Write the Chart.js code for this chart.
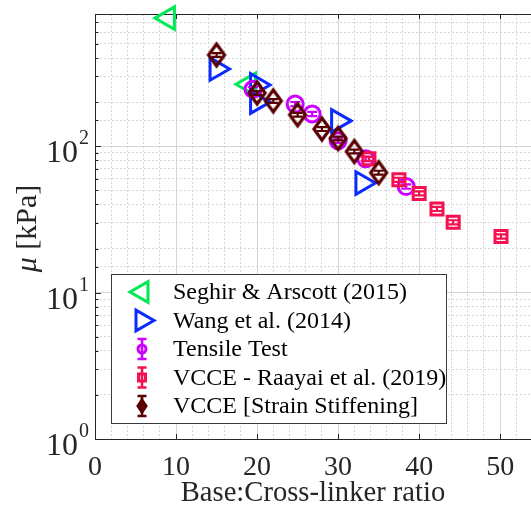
<!DOCTYPE html>
<html lang="en">

<head>
    <meta charset="UTF-8">
    <title>mu vs ratio</title>
    <style>
        html, body { margin: 0; padding: 0; background: #fff; overflow: hidden; }
        #wrap { width: 531px; height: 508px; }
    </style>
</head>

<body>
    <div id="wrap"><canvas id="myChart" width="531" height="508"></canvas></div>

    <script src="https://cdn.jsdelivr.net/npm/chart.js"></script>
    <script>
        // values
        const seghirX = [9, 19];
        const seghirY = [750, 265];

        const wangX = [15, 20, 20, 30, 33];
        const wangY = [337, 262, 200, 149, 56];

        const tensileX = [19.5, 24.7, 26.8, 30, 33.4, 38.4];
        const tensileY = [245, 194, 166, 109, 82, 53];
        const tensileErr = [8, 6.5, 5.5, 3.8, 2.8, 1.8];

        const raayaiX = [33.8, 37.5, 40, 42.2, 44.2, 50.1];
        const raayaiY = [82, 59, 47.6, 37.3, 30.2, 24.2];
        const raayaiErr = [2.6, 1.9, 1.5, 1.2, 1, 0.8];

        const stiffX = [15, 20, 22, 25, 28, 30, 32, 35];
        const stiffY = [420, 231, 204, 164, 131, 113, 92, 66];
        const stiffErr = [12, 7, 6, 5, 4, 3.4, 2.8, 2];

        const xTicks = [0, 10, 20, 30, 40, 50];
        const yTicks = [1, 10, 100];
        const yTickExp = ['0', '1', '2'];

        const labels = [
            'Seghir & Arscott (2015)',
            'Wang et al. (2014)',
            'Tensile Test',
            'VCCE - Raayai et al. (2019)',
            'VCCE [Strain Stiffening]'
        ];

        const green = '#00EA55';
        const blue = '#0A2AFF';
        const magenta = '#CC00FF';
        const red = '#F5114F';
        const dark = '#5A0000';
        const axisColor = '#262626';
        const serif = '"Liberation Serif", "Times New Roman", serif';

        const ctx = document.getElementById('myChart');

        function pts(xs, ys) {
            return xs.map((x, i) => ({ x: x, y: ys[i] }));
        }

        // MATLAB-like diamond, taller than wide
        function diamondImage(color) {
            var c = document.createElement('canvas');
            c.width = 22; c.height = 30;
            var g = c.getContext('2d');
            g.strokeStyle = color;
            g.lineWidth = 3.2;
            g.beginPath();
            g.moveTo(11, 4); g.lineTo(19, 15); g.lineTo(11, 26); g.lineTo(3, 15);
            g.closePath();
            g.stroke();
            return c;
        }

        // error bars drawn right after each dataset so stacking stays correct
        const errorBars = {
            id: 'errorBars',
            afterDatasetDraw(chart, args) {
                var ds = chart.data.datasets[args.index];
                if (!ds.err) return;
                var g = chart.ctx, ys = chart.scales.y;
                g.save();
                g.strokeStyle = ds.borderColor;
                g.lineWidth = 2.2;
                args.meta.data.forEach((p, i) => {
                    var v = ds.data[i].y, e = ds.err[i];
                    var y1 = ys.getPixelForValue(v + e), y2 = ys.getPixelForValue(v - e);
                    g.beginPath();
                    g.moveTo(p.x, y1); g.lineTo(p.x, y2);
                    g.moveTo(p.x - 5, y1); g.lineTo(p.x + 5, y1);
                    g.moveTo(p.x - 5, y2); g.lineTo(p.x + 5, y2);
                    g.stroke();
                });
                g.restore();
            }
        };

        // top border and inward tick marks
        const axesExtras = {
            id: 'axesExtras',
            beforeDatasetsDraw(chart) {
                var g = chart.ctx, a = chart.chartArea, xs = chart.scales.x, ys = chart.scales.y;
                g.save();
                g.strokeStyle = axisColor;
                g.lineWidth = 1;
                g.beginPath();
                g.moveTo(a.left, a.top + 0.5); g.lineTo(a.right, a.top + 0.5);
                xTicks.forEach(v => {
                    var px = Math.round(xs.getPixelForValue(v)) + 0.5;
                    g.moveTo(px, a.bottom); g.lineTo(px, a.bottom - 5);
                    g.moveTo(px, a.top); g.lineTo(px, a.top + 5);
                });
                ys.ticks.forEach(t => {
                    var py = Math.round(ys.getPixelForValue(t.value)) + 0.5;
                    var l = Math.abs(Math.log10(t.value) - Math.round(Math.log10(t.value))) < 1e-9 ? 6 : 3.5;
                    g.moveTo(a.left, py); g.lineTo(a.left + l, py);
                });
                g.stroke();
                g.restore();
            },
            afterDraw(chart) {
                var g = chart.ctx, ys = chart.scales.y, a = chart.chartArea;
                g.save();
                g.fillStyle = axisColor;
                // 10^n tick labels
                yTicks.forEach((v, i) => {
                    var py = ys.getPixelForValue(v);
                    g.font = '32px ' + serif;
                    g.textAlign = 'right';
                    g.textBaseline = 'alphabetic';
                    g.fillText('10', 78, py + 16);
                    g.font = '20px ' + serif;
                    g.textAlign = 'left';
                    g.fillText(yTickExp[i], 79, py - 2);
                });
                // y axis title with italic mu
                g.translate(28, (a.top + a.bottom) / 2 + 2);
                g.rotate(-Math.PI / 2);
                g.textBaseline = 'middle';
                g.textAlign = 'left';
                g.font = 'italic 30px ' + serif;
                var w1 = g.measureText('\u03bc').width;
                g.font = '30px ' + serif;
                var w2 = g.measureText(' [kPa]').width;
                var x0 = -(w1 + w2) / 2;
                g.font = 'italic 30px ' + serif;
                g.fillText('\u03bc', x0, 0);
                g.font = '30px ' + serif;
                g.fillText(' [kPa]', x0 + w1, 0);
                g.restore();
            }
        };

        // boxed legend inside the plot
        const boxLegend = {
            id: 'boxLegend',
            afterDraw(chart) {
                var g = chart.ctx;
                var bx = 111.5, by = 274.5, bw = 335, bh = 149;
                var mx = 142, tx = 173, y0 = 292, dy = 28.5;
                g.save();
                g.fillStyle = '#fff';
                g.fillRect(bx, by, bw, bh);
                g.strokeStyle = '#3a3a3a';
                g.lineWidth = 1;
                g.strokeRect(bx, by, bw, bh);

                chart.data.datasets.forEach((ds, i) => {
                    var y = y0 + i * dy;
                    g.strokeStyle = ds.borderColor;
                    g.lineWidth = 3;
                    g.beginPath();
                    if (ds.pointStyle === 'triangle') {
                        var r = 12, rad = ds.rotation * Math.PI / 180;
                        for (var k = 0; k < 3; k++) {
                            var ang = rad + k * 2 * Math.PI / 3;
                            var px = mx + Math.sin(ang) * r, py = y - Math.cos(ang) * r;
                            if (k === 0) g.moveTo(px, py); else g.lineTo(px, py);
                        }
                        g.closePath();
                        g.stroke();
                    } else {
                        // errorbar glyph with small marker
                        g.lineWidth = 2.6;
                        g.moveTo(mx, y - 10); g.lineTo(mx, y + 10);
                        g.moveTo(mx - 4.5, y - 10); g.lineTo(mx + 4.5, y - 10);
                        g.moveTo(mx - 4.5, y + 10); g.lineTo(mx + 4.5, y + 10);
                        g.stroke();
                        g.beginPath();
                        g.lineWidth = 3;
                        if (ds.legendMark === 'circle') {
                            g.arc(mx, y, 4, 0, Math.PI * 2);
                        } else if (ds.legendMark === 'square') {
                            g.rect(mx - 3.5, y - 3.5, 7, 7);
                        } else {
                            g.moveTo(mx, y - 6); g.lineTo(mx + 4, y); g.lineTo(mx, y + 6); g.lineTo(mx - 4, y);
                            g.closePath();
                            g.fillStyle = ds.borderColor;
                            g.fill();
                        }
                        g.stroke();
                    }
                    g.fillStyle = '#000';
                    g.font = '24px ' + serif;
                    g.textAlign = 'left';
                    g.textBaseline = 'middle';
                    g.fillText(ds.label, tx, y + 1);
                });
                g.restore();
            }
        };

        const base = { showLine: false, clip: false, backgroundColor: 'rgba(0,0,0,0)', borderWidth: 3 };

        const myChart = new Chart(ctx, {
            type: 'scatter',
            data: {
                datasets: [
                    Object.assign({}, base, {
                        label: labels[0], data: pts(seghirX, seghirY), borderColor: green,
                        pointStyle: 'triangle', rotation: 270, pointRadius: 13, order: 5
                    }),
                    Object.assign({}, base, {
                        label: labels[1], data: pts(wangX, wangY), borderColor: blue,
                        pointStyle: 'triangle', rotation: 90, pointRadius: 13, order: 4
                    }),
                    Object.assign({}, base, {
                        label: labels[2], data: pts(tensileX, tensileY), err: tensileErr, borderColor: magenta,
                        pointStyle: 'circle', pointRadius: 8, legendMark: 'circle', order: 3
                    }),
                    Object.assign({}, base, {
                        label: labels[3], data: pts(raayaiX, raayaiY), err: raayaiErr, borderColor: red,
                        pointStyle: 'rect', pointRadius: 8.5, legendMark: 'square', order: 2
                    }),
                    Object.assign({}, base, {
                        label: labels[4], data: pts(stiffX, stiffY), err: stiffErr, borderColor: dark,
                        pointStyle: diamondImage(dark), pointRadius: 10, legendMark: 'diamond', order: 1
                    })
                ]
            },
            options: {
                responsive: false,
                animation: false,
                events: [],
                layout: { autoPadding: false, padding: { top: 14, right: 0, left: 0, bottom: 0 } },
                plugins: {
                    legend: { display: false },
                    tooltip: { enabled: false }
                },
                scales: {
                    x: {
                        type: 'linear',
                        min: 0,
                        max: 53.8,
                        afterFit: s => { s.height = 69; s.paddingRight = 0; s.paddingLeft = 0; },
                        ticks: {
                            stepSize: 2,
                            includeBounds: false,
                            autoSkip: false,
                            maxRotation: 0,
                            padding: 12,
                            color: axisColor,
                            font: { family: serif, size: 28 },
                            callback: v => (v % 10 === 0 ? v : '')
                        },
                        grid: {
                            drawTicks: false,
                            lineWidth: 1,
                            color: c => (c.tick && c.tick.value % 10 === 0) ? '#d4d4d4' : '#d6d6d6'
                        },
                        border: {
                            color: axisColor,
                            width: 1,
                            dash: c => (c.type === 'tick' && c.tick.value % 10 !== 0) ? [2, 2] : []
                        },
                        title: {
                            display: true,
                            text: 'Base:Cross-linker ratio',
                            color: axisColor,
                            font: { family: serif, size: 28.6 },
                            padding: { top: 0, bottom: -3 }
                        }
                    },
                    y: {
                        type: 'logarithmic',
                        min: 1,
                        max: 800,
                        afterFit: s => { s.width = 95; s.paddingTop = 0; s.paddingBottom = 0; },
                        ticks: {
                            autoSkip: false,
                            callback: () => ''
                        },
                        grid: {
                            drawTicks: false,
                            lineWidth: 1,
                            color: c => {
                                if (c.type !== 'tick') return '#d6d6d6';
                                var lg = Math.log10(c.tick.value);
                                return Math.abs(lg - Math.round(lg)) < 1e-9 ? '#d4d4d4' : '#d6d6d6';
                            }
                        },
                        border: {
                            color: axisColor,
                            width: 1,
                            dash: c => {
                                if (c.type !== 'tick') return [];
                                var lg = Math.log10(c.tick.value);
                                return Math.abs(lg - Math.round(lg)) < 1e-9 ? [] : [2, 2];
                            }
                        }
                    }
                }
            },
            plugins: [errorBars, axesExtras, boxLegend]
        });
    </script>

</body>

</html>
